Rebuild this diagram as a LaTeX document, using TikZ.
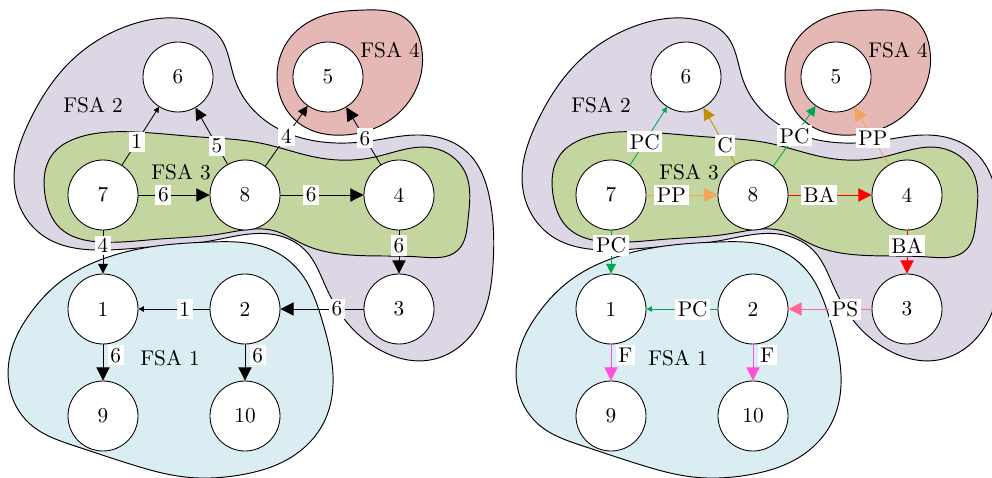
\documentclass[tikz,border=0pt]{standalone}
\usepackage{tikz}
\usetikzlibrary{arrows.meta,hobby}
\definecolor{fsaone}{RGB}{218,237,243}
\definecolor{fsatwo}{RGB}{220,214,229}
\definecolor{fsathree}{RGB}{196,214,160}
\definecolor{fsafour}{RGB}{230,184,181}
\definecolor{pcgreen}{RGB}{0,166,80}
\definecolor{cgold}{RGB}{191,143,0}
\definecolor{pporange}{RGB}{244,162,92}
\definecolor{bared}{RGB}{255,0,0}
\definecolor{pspink}{RGB}{255,102,153}
\definecolor{fmagenta}{RGB}{255,80,220}

% the four FSA regions, in pixel units of one panel
\newcommand{\fsaregions}{%
    \draw[blob, fill=fsatwo] (15,190) .. (30,120) .. (70,62) .. (130,25)
        .. (190,20) .. (218,35) .. (235,80) .. (262,118) .. (310,140)
        .. (370,141) .. (420,135) .. (468,153) .. (490,200) .. (493,265)
        .. (478,325) .. (430,360) .. (380,350) .. (345,320) .. (325,285)
        .. (305,250) .. (270,234) .. (210,241) .. (150,247) .. (95,250)
        .. (45,237);
    \draw[blob, fill=fsathree] (45,195) .. (52,155) .. (80,137) .. (135,132)
        .. (200,137) .. (260,143) .. (320,158) .. (375,157) .. (433,148)
        .. (465,172) .. (468,220) .. (458,250) .. (420,257) .. (350,255)
        .. (305,245) .. (275,231) .. (220,234) .. (160,239) .. (100,242)
        .. (60,228);
    \draw[blob, fill=fsafour] (277,77) .. (290,38) .. (325,15) .. (365,10)
        .. (405,18) .. (421,45) .. (417,87) .. (390,120) .. (345,135)
        .. (300,124);
    \draw[blob, fill=fsaone] (100,260) .. (150,247) .. (210,242) .. (267,248)
        .. (300,272) .. (322,320) .. (333,375) .. (325,420) .. (290,458)
        .. (240,475) .. (185,477) .. (130,464) .. (75,446) .. (30,424)
        .. (9,385) .. (13,345) .. (32,311) .. (60,282);
}

\begin{document}
\begin{tikzpicture}[
    x=0.47pt, y=-0.47pt,
    font=\normalsize,
    state/.style={circle, draw, fill=white, minimum size=32.9pt, inner sep=0pt},
    blob/.style={draw, line width=0.45pt, use Hobby shortcut, closed=true},
    lbl/.style={fill=white, text=black, inner sep=1.3pt, pos=0.35},
    side/.style={lbl, anchor=west, inner sep=1.3pt, xshift=2pt},
    w1/.style={-{Triangle[length=2.6pt,width=2.6pt]}},
    w4/.style={-{Triangle[length=4.6pt,width=4.6pt]}},
    w5/.style={-{Triangle[length=5.6pt,width=5.6pt]}},
    w6/.style={-{Triangle[length=6.2pt,width=6.2pt]}}
]
    \useasboundingbox (0,0) rectangle (992,478);

    \foreach \p/\dx in {l/0, r/508} {
        \begin{scope}[shift={(\dx,0)}]
            \fsaregions
            \node (\p fsaone) at (170,358) {FSA 1};
            \node (\p fsatwo) at (93,105) {FSA 2};
            \node (\p fsathree) at (181,172) {FSA 3};
            \node (\p fsafour) at (390,50) {FSA 4};
            \foreach \n/\x/\y in {1/103/309, 2/245/309, 3/399/309, 4/399/195,
                                  5/328/77, 6/178/77, 7/103/195, 8/245/195,
                                  9/103/416, 10/245/416}
                \node[state] (\p\n) at (\x,\y) {\n};
        \end{scope}
    }

    % left: weights
    \draw[w1] (l7) -- node[lbl, pos=0.4] {1} (l6);
    \draw[w5] (l8) -- node[lbl, pos=0.33] {5} (l6);
    \draw[w4] (l8) -- node[lbl, pos=0.5] {4} (l5);
    \draw[w6] (l4) -- node[lbl, pos=0.46] {6} (l5);
    \draw[w6] (l7) -- node[lbl] {6} (l8);
    \draw[w6] (l8) -- node[lbl, pos=0.37] {6} (l4);
    \draw[w4] (l7) -- node[lbl] {4} (l1);
    \draw[w6] (l4) -- node[lbl] {6} (l3);
    \draw[w1] (l2) -- node[lbl] {1} (l1);
    \draw[w6] (l3) -- node[lbl, pos=0.32] {6} (l2);
    \draw[w6] (l1) -- node[side, pos=0.3] {6} (l9);
    \draw[w6] (l2) -- node[side, pos=0.3] {6} (l10);

    % right: labels
    \draw[w1, pcgreen] (r7) -- node[lbl, pos=0.4] {PC} (r6);
    \draw[w5, cgold] (r8) -- node[lbl, pos=0.33] {C} (r6);
    \draw[w4, pcgreen] (r8) -- node[lbl, pos=0.5] {PC} (r5);
    \draw[w6, pporange] (r4) -- node[lbl, pos=0.46] {PP} (r5);
    \draw[w6, pporange] (r7) -- node[lbl] {PP} (r8);
    \draw[w6, bared] (r8) -- node[lbl, pos=0.37] {BA} (r4);
    \draw[w4, pcgreen] (r7) -- node[lbl] {PC} (r1);
    \draw[w6, bared] (r4) -- node[lbl] {BA} (r3);
    \draw[w1, pcgreen] (r2) -- node[lbl] {PC} (r1);
    \draw[w6, pspink] (r3) -- node[lbl, pos=0.32] {PS} (r2);
    \draw[w6, fmagenta] (r1) -- node[side, pos=0.3] {F} (r9);
    \draw[w6, fmagenta] (r2) -- node[side, pos=0.3] {F} (r10);
\end{tikzpicture}
\end{document}
